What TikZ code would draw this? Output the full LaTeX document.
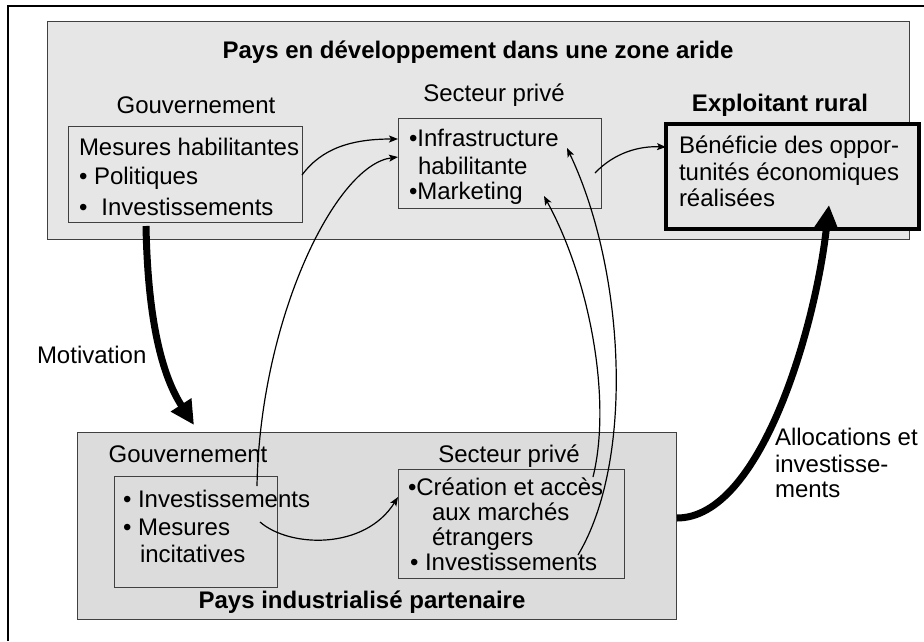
\documentclass[tikz,border=0pt]{standalone}
\usepackage{fontspec}
\setmainfont{Liberation Sans}
\usetikzlibrary{arrows.meta}
\definecolor{paneltop}{HTML}{E6E6E6}
\definecolor{panelbot}{HTML}{DCDCDC}
\definecolor{edge}{HTML}{404040}
\begin{document}
\begin{tikzpicture}[x=1pt,y=-1pt,
  txt/.style={inner sep=0pt, outer sep=0pt, font=\fontsize{24}{28}\selectfont, anchor=base west},
  ctxt/.style={txt, anchor=base},
  btxt/.style={ctxt, font=\fontsize{24}{28}\selectfont\bfseries},
  boxshape/.style={rectangle, anchor=north west, inner sep=0pt, outer sep=0pt},
  panel/.style={boxshape, draw=edge, line width=1pt},
  inbox/.style={boxshape, draw=edge, line width=1pt},
  thinarrow/.style={line width=1.2pt, -{Stealth[length=9pt,width=7pt,inset=2pt]}},
  thickarrow/.style={line width=7pt, -{Triangle[length=24pt,width=23pt]}}
]
\useasboundingbox (0,0) rectangle (924,641);
\fill[white] (0,0) rectangle (924,641);
\coordinate (frameA) at (8,641);
\coordinate (frameB) at (8,6);
\coordinate (frameC) at (924,6);
\draw[line width=2pt] (frameA) -- (frameB) -- (frameC);

% panels
\node[panel, fill=paneltop, minimum width=862pt, minimum height=218pt] (top) at (47,21) {};
\node[panel, fill=panelbot, minimum width=599pt, minimum height=187pt] (bot) at (77,432) {};
% inner boxes
\node[inbox, minimum width=234pt, minimum height=96pt] (gov1) at (68,126) {};
\node[inbox, minimum width=203pt, minimum height=90pt] (sec1) at (398,118) {};
\node[boxshape, draw=black, fill=paneltop, line width=4pt, minimum width=253pt, minimum height=105pt] (expl) at (666,124) {};
\node[inbox, minimum width=163pt, minimum height=111pt] (gov2) at (114,476) {};
\node[inbox, minimum width=226pt, minimum height=109pt] (sec2) at (398,469) {};

% texts top
\node[btxt] (title) at (478,58) {Pays en développement dans une zone aride};
\node[ctxt] (gov1lbl) at (196,113) {Gouvernement};
\node[ctxt] (sec1lbl) at (494,101) {Secteur privé};
\node[btxt] (expllbl) at (780,111) {Exploitant rural};
\node[txt] (g1a) at (79,155) {Mesures habilitantes};
\node[txt] (g1b) at (79,184) {• Politiques};
\node[txt] (g1c) at (79,215) {•\hspace{14pt}Investissements};
\node[txt] (s1a) at (409,146) {•Infrastructure};
\node[txt] (s1b) at (418,174) {habilitante};
\node[txt] (s1c) at (409,199) {•Marketing};
\node[txt] (e1a) at (679,153) {Bénéficie des oppor-};
\node[txt] (e1b) at (679,180) {tunités économiques};
\node[txt] (e1c) at (679,206) {réalisées};

% texts bottom
\node[ctxt] (gov2lbl) at (188,462) {Gouvernement};
\node[ctxt] (sec2lbl) at (509,462) {Secteur privé};
\node[txt] (g2a) at (123,507) {• Investissements};
\node[txt] (g2b) at (123,535) {• Mesures};
\node[txt] (g2c) at (140,562) {incitatives};
\node[txt] (s2a) at (408,495) {•Création et accès};
\node[txt] (s2b) at (432,520) {aux marchés};
\node[txt] (s2c) at (432,545) {étrangers};
\node[txt] (s2d) at (410,570) {• Investissements};
\node[btxt] (pind) at (362,608) {Pays industrialisé partenaire};
\node[txt] (motiv) at (37,363) {Motivation};
\node[txt] (al1) at (775,445) {Allocations et};
\node[txt] (al2) at (775,472) {investisse-};
\node[txt] (al3) at (775,497) {ments};

% connector end points
\coordinate (c1s) at (302,175);
\coordinate (c1e) at (398,139);
\coordinate (c2s) at (257,486);
\coordinate (c2e) at (398,157);
\coordinate (c3s) at (593,477);
\coordinate (c3e) at (544,196);
\coordinate (c4s) at (578,555);
\coordinate (c4e) at (567,148);
\coordinate (c5s) at (595,173);
\coordinate (c5e) at (666,147);
\coordinate (c6s) at (260,522);
\coordinate (c6e) at (398,497);
\coordinate (m1s) at (146,226);
\coordinate (m1e) at (194,425);
\coordinate (m2s) at (677,518);
\coordinate (m2e) at (829,205);

% thin connectors
\draw[thinarrow] (c1s) .. controls (322,148) and (352,139) .. (c1e);
\draw[thinarrow] (c2s) .. controls (260,320) and (335,165) .. (c2e);
\draw[thinarrow] (c3s) .. controls (612,400) and (590,280) .. (c3e);
\draw[thinarrow] (c4s) .. controls (635,460) and (625,270) .. (c4e);
\draw[thinarrow] (c5s) .. controls (615,152) and (640,146) .. (c5e);
\draw[thinarrow] (c6s) .. controls (290,548) and (365,550) .. (c6e);

% thick connectors
\draw[thickarrow] (m1s) .. controls (148,330) and (165,380) .. (m1e);
\draw[thickarrow] (m2s) .. controls (760,518) and (815,330) .. (m2e);
\end{tikzpicture}
\end{document}
